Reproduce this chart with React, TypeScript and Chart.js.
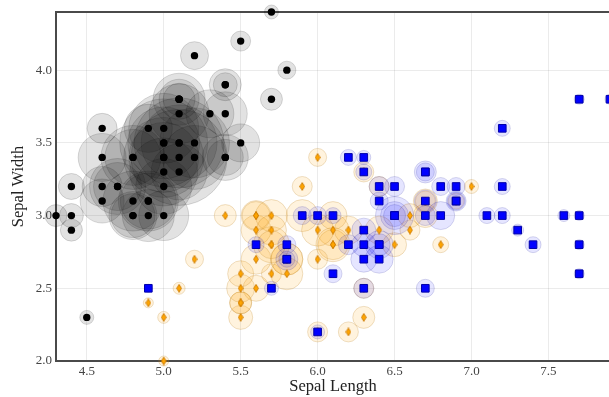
import React, { useEffect, useRef } from "react";
import { Chart, registerables } from "chart.js";

Chart.register(...registerables);

// Iris: sepal length / sepal width, plus estimated halo weight per sample
const setosaLength = [5.1,4.9,4.7,4.6,5.0,5.4,4.6,5.0,4.4,4.9,5.4,4.8,4.8,4.3,5.8,5.7,5.4,5.1,5.7,5.1,5.4,5.1,4.6,5.1,4.8,5.0,5.0,5.2,5.2,4.7,4.8,5.4,5.2,5.5,4.9,5.0,5.5,4.9,4.4,5.1,5.0,4.5,4.4,5.0,5.1,4.8,5.1,4.6,5.3,5.0];
const setosaWidth = [3.5,3.0,3.2,3.1,3.6,3.9,3.4,3.4,2.9,3.1,3.7,3.4,3.0,3.0,4.0,4.4,3.9,3.5,3.8,3.8,3.4,3.7,3.6,3.3,3.4,3.0,3.4,3.5,3.4,3.2,3.1,3.4,4.1,4.2,3.1,3.2,3.5,3.6,3.0,3.4,3.5,2.3,3.2,3.5,3.8,3.0,3.8,3.2,3.7,3.3];
const setosaWeight = [45,26,28,22,35,16,24,40,11,30,22,32,24,11,9,7,12,38,11,26,23,30,15,28,28,25,35,35,32,24,30,18,14,10,28,28,19,24,12,48,44,7,13,36,20,22,16,20,24,34];

const versicolorLength = [7.0,6.4,6.9,5.5,6.5,5.7,6.3,4.9,6.6,5.2,5.0,5.9,6.0,6.1,5.6,6.7,5.6,5.8,6.2,5.6,5.9,6.1,6.3,6.1,6.4,6.6,6.8,6.7,6.0,5.7,5.5,5.5,5.8,6.0,5.4,6.0,6.7,6.3,5.6,5.5,5.5,6.1,5.8,5.0,5.6,5.7,5.7,6.2,5.1,5.7];
const versicolorWidth = [3.2,3.2,3.1,2.3,2.8,2.8,3.3,2.4,2.9,2.7,2.0,3.0,2.2,2.9,2.9,3.1,3.0,2.7,2.2,2.5,3.2,2.8,2.5,2.8,2.9,3.0,2.8,3.0,2.9,2.6,2.4,2.4,2.7,2.7,3.0,3.4,3.1,2.3,3.0,2.5,2.6,3.0,2.6,2.3,2.7,3.0,2.9,2.9,2.5,2.8];
const versicolorWeight = [7,10,8,12,12,18,10,5,10,9,5,16,10,16,15,10,15,16,10,13,10,15,10,17,14,12,8,12,16,10,11,11,16,10,11,9,12,11,14,14,13,14,16,6,15,16,15,14,6,14];

const virginicaLength = [6.3,5.8,7.1,6.3,6.5,7.6,4.9,7.3,6.7,7.2,6.5,6.4,6.8,5.7,5.8,6.4,6.5,7.7,7.7,6.0,6.9,5.6,7.7,6.3,6.7,7.2,6.2,6.1,6.4,7.2,7.4,7.9,6.4,6.3,6.1,7.7,6.3,6.4,6.0,6.9,6.7,6.9,5.8,6.8,6.7,6.7,6.3,6.5,6.2,5.9];
const virginicaWidth = [3.3,2.7,3.0,2.9,3.0,3.0,2.5,2.9,2.5,3.6,3.2,2.7,3.0,2.5,2.8,3.2,3.0,3.8,2.6,2.2,3.2,2.8,2.8,2.7,3.3,3.2,2.8,3.0,2.8,3.0,2.8,3.8,2.8,2.8,2.6,3.0,3.4,3.1,3.0,3.1,3.1,3.1,2.7,3.2,3.3,3.0,2.5,3.0,3.4,3.0];
const virginicaWeight = [8,11,8,12,19,6,4,6,9,8,10,14,14,7,9,10,14,5,5,7,9,8,5,13,11,8,10,8,14,8,8,5,11,12,9,5,7,9,9,10,11,9,8,9,9,10,10,11,8,9];

const xTicks = [4.5, 5.0, 5.5, 6.0, 6.5, 7.0, 7.5];
const yTicks = [2.0, 2.5, 3.0, 3.5, 4.0];
const xLabel = "Sepal Length";
const yLabel = "Sepal Width";

function makeDiamond(): HTMLCanvasElement {
  const c = document.createElement("canvas");
  c.width = 6;
  c.height = 9;
  const g = c.getContext("2d")!;
  g.beginPath();
  g.moveTo(3, 0.6);
  g.lineTo(5.4, 4.5);
  g.lineTo(3, 8.4);
  g.lineTo(0.6, 4.5);
  g.closePath();
  g.fillStyle = "#ffa500";
  g.fill();
  g.strokeStyle = "#cc7c00";
  g.lineWidth = 0.9;
  g.stroke();
  return c;
}

const framePlugin = {
  id: "frame",
  beforeDatasetsDraw(chart: any) {
    const { ctx, chartArea: a } = chart;
    ctx.save();
    ctx.strokeStyle = "#4a4a4a";
    ctx.lineWidth = 2;
    ctx.strokeRect(a.left, a.top, a.right - a.left, a.bottom - a.top);
    ctx.restore();
  },
};

export default function App() {
  const ref = useRef<HTMLCanvasElement>(null);
  useEffect(() => {
    const canvas = ref.current!;
    const pts = (xs: number[], ys: number[]) => xs.map((x, i) => ({ x, y: ys[i] }));
    const bub = (xs: number[], ys: number[], rs: number[]) =>
      xs.map((x, i) => ({ x, y: ys[i], r: rs[i] }));
    const serif = "'Liberation Serif', 'Times New Roman', serif";
    const chart = new Chart(canvas, {
      type: "scatter",
      data: {
        datasets: [
          {
            type: "bubble",
            data: bub(setosaLength, setosaWidth, setosaWeight),
            backgroundColor: "rgba(0,0,0,0.115)",
            borderColor: "rgba(0,0,0,0.14)",
            borderWidth: 1,
            clip: false,
            order: 6,
          } as any,
          {
            type: "bubble",
            data: bub(versicolorLength, versicolorWidth, versicolorWeight),
            backgroundColor: "rgba(255,165,0,0.13)",
            borderColor: "rgba(190,130,30,0.24)",
            borderWidth: 1,
            clip: false,
            order: 5,
          } as any,
          {
            type: "bubble",
            data: bub(virginicaLength, virginicaWidth, virginicaWeight),
            backgroundColor: "rgba(0,0,255,0.1)",
            borderColor: "rgba(0,0,140,0.15)",
            borderWidth: 1,
            clip: false,
            order: 4,
          } as any,
          {
            data: pts(setosaLength, setosaWidth),
            pointStyle: "circle",
            pointRadius: 3.7,
            backgroundColor: "#000",
            borderWidth: 0,
            clip: false,
            order: 3,
          } as any,
          {
            data: pts(versicolorLength, versicolorWidth),
            pointStyle: makeDiamond(),
            pointRadius: 5,
            clip: false,
            order: 2,
          } as any,
          {
            data: pts(virginicaLength, virginicaWidth),
            pointStyle: "rect",
            pointRadius: 5.4,
            backgroundColor: "#0000ff",
            borderColor: "#0000a8",
            borderWidth: 1,
            clip: false,
            order: 1,
          } as any,
        ],
      },
      options: {
        animation: false,
        responsive: false,
        events: [],
        layout: { autoPadding: false, padding: { top: 12, right: 10, left: 0, bottom: 0 } },
        plugins: { legend: { display: false }, tooltip: { enabled: false } },
        scales: {
          x: {
            type: "linear",
            min: 4.3,
            max: 7.9,
            afterBuildTicks: (s: any) => {
              s.ticks = xTicks.map((v) => ({ value: v }));
            },
            afterFit: (s: any) => {
              s.height = 36;
            },
            ticks: {
              callback: (v: any) => Number(v).toFixed(1),
              font: { family: serif, size: 13 },
              color: "#444",
              padding: 3,
            },
            grid: { color: "rgba(0,0,0,0.08)", drawTicks: false },
            border: { display: false },
            title: {
              display: true,
              text: xLabel,
              font: { family: serif, size: 16.5 },
              color: "#222",
              padding: { top: 0, bottom: 0 },
            },
          },
          y: {
            type: "linear",
            min: 2.0,
            max: 4.4,
            afterBuildTicks: (s: any) => {
              s.ticks = yTicks.map((v) => ({ value: v }));
            },
            afterFit: (s: any) => {
              s.width = 56;
            },
            ticks: {
              callback: (v: any) => Number(v).toFixed(1),
              font: { family: serif, size: 13 },
              color: "#444",
              padding: 4,
            },
            grid: { color: "rgba(0,0,0,0.08)", drawTicks: false },
            border: { display: false },
            title: {
              display: true,
              text: yLabel,
              font: { family: serif, size: 16.5 },
              color: "#222",
              padding: { top: 9, bottom: 0 },
            },
          },
        },
      },
      plugins: [framePlugin],
    } as any);
    return () => chart.destroy();
  }, []);

  return (
    <div
      style={{
        position: "absolute",
        left: 0,
        top: 0,
        width: 609,
        height: 397,
        overflow: "hidden",
        background: "#fff",
      }}
    >
      <canvas ref={ref} width={620} height={397} style={{ display: "block" }} />
    </div>
  );
}
